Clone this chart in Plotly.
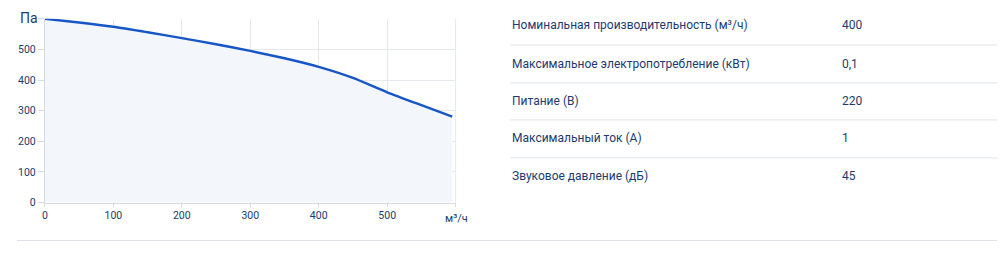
import plotly.graph_objects as go

# Fan curve data (flow m³/h vs pressure Pa)
flow = [0, 50, 100, 150, 200, 250, 300, 350, 400, 450, 500, 550, 595]
pressure = [600, 588, 574, 556, 537, 517, 495, 471, 443, 407, 360, 318, 281]

x_ticks = [0, 100, 200, 300, 400, 500, 600]
x_ticktext = ["0", "100", "200", "300", "400", "500", ""]
y_ticks = [0, 100, 200, 300, 400, 500, 600]
y_ticktext = ["0", "100", "200", "300", "400", "500", ""]

param_labels = [
    "Номинальная производительность (м³/ч)",
    "Максимальное электропотребление (кВт)",
    "Питание (В)",
    "Максимальный ток (А)",
    "Звуковое давление (дБ)",
]
param_values = ["400", "0,1", "220", "1", "45"]

W, H = 1007, 256
TXT = "#1c3b6e"
GRID = "#e5e8ee"
SEP = "#dfe3ea"

fig = go.Figure()
fig.add_trace(go.Scatter(
    x=flow, y=pressure, mode="lines",
    line=dict(color="#1656c6", width=2.4, shape="spline", smoothing=0.6),
    fill="tozeroy", fillcolor="#f3f6fb",
    hoverinfo="skip", showlegend=False,
))

x0, x1 = 42 / W, 454 / W
y0, y1 = 1 - 208.3 / H, 1 - 19.3 / H

fig.update_layout(
    width=W, height=H,
    margin=dict(l=0, r=0, t=0, b=0),
    paper_bgcolor="white", plot_bgcolor="white",
    font=dict(family="Roboto, Arial, sans-serif", color=TXT, size=12),
    xaxis=dict(
        domain=[x0, x1], range=[0, 600], tickvals=x_ticks, ticktext=x_ticktext,
        showgrid=True, gridcolor=GRID, gridwidth=1,
        showline=True, linecolor="#d6dae2", linewidth=1,
        ticks="outside", ticklen=3, tickcolor="#d6dae2",
        tickfont=dict(size=10.5, color=TXT), zeroline=False, fixedrange=True,
    ),
    yaxis=dict(
        domain=[y0, y1], range=[0, 600], tickvals=y_ticks, ticktext=y_ticktext,
        showgrid=True, gridcolor=GRID, gridwidth=1,
        showline=True, linecolor="#d6dae2", linewidth=1,
        ticks="outside", ticklen=6, tickcolor="#d6dae2",
        tickfont=dict(size=10.5, color=TXT), zeroline=False, fixedrange=True,
    ),
)

# right frame line
fig.add_shape(type="line", xref="paper", yref="paper", x0=x1, x1=x1, y0=y0, y1=y1,
              line=dict(color=GRID, width=1))

anns = [
    dict(x=26 / W, y=1 - 19 / H, text="Па", font=dict(size=14, color=TXT)),
    dict(x=455 / W, y=1 - 225 / H, text="м³/ч", font=dict(size=11, color=TXT)),
]
for a in anns:
    a.update(xref="paper", yref="paper", showarrow=False, xanchor="center", yanchor="middle")
    fig.add_annotation(**a)

row_y = [26, 65.5, 103.5, 142, 180.5]
sep_y = [46.3, 85.3, 123.3, 162.3]
for lbl, val, ry in zip(param_labels, param_values, row_y):
    fig.add_annotation(x=509 / W, y=1 - ry / H, xref="paper", yref="paper", text=lbl,
                       showarrow=False, xanchor="left", yanchor="middle",
                       font=dict(size=12, color=TXT))
    fig.add_annotation(x=839 / W, y=1 - ry / H, xref="paper", yref="paper", text=val,
                       showarrow=False, xanchor="left", yanchor="middle",
                       font=dict(size=12, color=TXT))
for sy in sep_y:
    fig.add_shape(type="line", xref="paper", yref="paper", x0=509 / W, x1=997 / W,
                  y0=1 - sy / H, y1=1 - sy / H, line=dict(color=SEP, width=1))
fig.add_shape(type="line", xref="paper", yref="paper", x0=14 / W, x1=997 / W,
              y0=1 - 247.3 / H, y1=1 - 247.3 / H, line=dict(color=SEP, width=1))

fig.write_html("out.html", config={"displayModeBar": False})
